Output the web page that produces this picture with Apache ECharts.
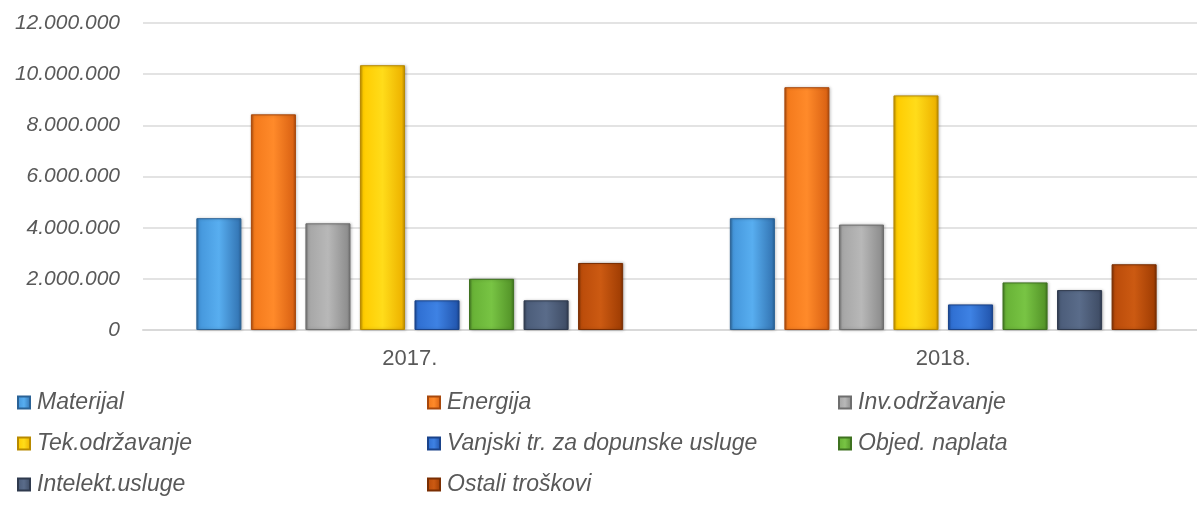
<!DOCTYPE html>
<html>
<head>
<meta charset="utf-8">
<title>Troškovi 2017.-2018.</title>
<script src="https://cdn.jsdelivr.net/npm/echarts@6/dist/echarts.min.js"></script>
<style>
  html, body { margin: 0; padding: 0; background: #fff; overflow: hidden; }
  #chart { width: 1211px; height: 514px; }
</style>
</head>
<body>
<div id="chart"></div>
<script>
// categories
var years = ['2017.', '2018.']

// series values
var materijal = [4370000, 4370000]
var energija = [8430000, 9490000]
var invOdrzavanje = [4170000, 4120000]
var tekOdrzavanje = [10350000, 9170000]
var vanjskiTr = [1160000, 1000000]
var objedNaplata = [2000000, 1860000]
var intelektUsluge = [1160000, 1560000]
var ostaliTroskovi = [2620000, 2570000]

// y axis ticks
var yTicks = [0, 2000000, 4000000, 6000000, 8000000, 10000000, 12000000]

var seriesList = [
  { name: 'Materijal', data: materijal, colors: ['#58aef0', '#4597dc', '#3679b8', '#2a6296'] },
  { name: 'Energija', data: energija, colors: ['#ff8a2a', '#f47a1c', '#dc6414', '#a8480c'] },
  { name: 'Inv.održavanje', data: invOdrzavanje, colors: ['#b8b8b8', '#a6a6a6', '#8f8f8f', '#6e6e6e'] },
  { name: 'Tek.održavanje', data: tekOdrzavanje, colors: ['#ffdc1a', '#ffcc00', '#eeb400', '#b88a00'] },
  { name: 'Vanjski tr. za dopunske usluge', data: vanjskiTr, colors: ['#3e82e4', '#2f6fd2', '#2459b2', '#1a438a'] },
  { name: 'Objed. naplata', data: objedNaplata, colors: ['#78c444', '#68b236', '#56972a', '#3f7220'] },
  { name: 'Intelekt.usluge', data: intelektUsluge, colors: ['#5a6c8a', '#4c5d7a', '#414f68', '#2f3a4e'] },
  { name: 'Ostali troškovi', data: ostaliTroskovi, colors: ['#cc5a12', '#bb4c0a', '#a33f04', '#7a2e02'] }
]

function fmt(v) {
  return String(v).replace(/\B(?=(\d{3})+(?!\d))/g, '.')
}

function barFill(c) {
  return new echarts.graphic.LinearGradient(0, 0, 1, 0, [
    { offset: 0, color: c[3] },
    { offset: 0.07, color: c[1] },
    { offset: 0.5, color: c[0] },
    { offset: 0.93, color: c[2] },
    { offset: 1, color: c[3] }
  ])
}

var labelColor = '#595959'
var fontName = 'Liberation Sans, Arial, sans-serif'

function legendColumn(left, names) {
  return {
    left: left,
    top: 391,
    padding: 0,
    orient: 'vertical',
    itemGap: 18,
    itemWidth: 12,
    itemHeight: 12,
    icon: 'rect',
    selectedMode: false,
    data: names,
    textStyle: {
      color: labelColor,
      fontStyle: 'italic',
      fontSize: 23,
      lineHeight: 23,
      fontFamily: fontName,
      padding: [0, 0, 0, 2]
    }
  }
}

var chart = echarts.init(document.getElementById('chart'))
chart.setOption({
  animation: false,
  backgroundColor: '#ffffff',
  // the plot runs past the right edge of the picture, as in the reference
  grid: { left: 143, top: 23, width: 1067, height: 307, containLabel: false },
  legend: [
    legendColumn(17, ['Materijal', 'Tek.održavanje', 'Intelekt.usluge']),
    legendColumn(427, ['Energija', 'Vanjski tr. za dopunske usluge', 'Ostali troškovi']),
    legendColumn(838, ['Inv.održavanje', 'Objed. naplata'])
  ],
  xAxis: {
    type: 'category',
    data: years,
    axisTick: { show: false },
    axisLine: { lineStyle: { color: '#d9d9d9', width: 2 } },
    axisLabel: {
      color: labelColor,
      fontSize: 22,
      fontFamily: fontName,
      margin: 18
    }
  },
  yAxis: {
    type: 'value',
    min: yTicks[0],
    max: yTicks[yTicks.length - 1],
    interval: yTicks[1] - yTicks[0],
    axisLine: { show: false },
    axisTick: { show: false },
    splitLine: { lineStyle: { color: '#dadada', width: 1.5 } },
    axisLabel: {
      color: labelColor,
      fontSize: 21,
      fontStyle: 'italic',
      fontFamily: fontName,
      margin: 23,
      formatter: fmt
    }
  },
  series: seriesList.map(function (s) {
    return {
      name: s.name,
      type: 'bar',
      data: s.data,
      barCategoryGap: '20%',
      barGap: '21%',
      itemStyle: {
        color: barFill(s.colors),
        borderColor: s.colors[3],
        borderWidth: 1,
        shadowColor: 'rgba(0,0,0,0.25)',
        shadowBlur: 3,
        shadowOffsetX: 1,
        shadowOffsetY: 0
      }
    }
  })
})
</script>
</body>
</html>
